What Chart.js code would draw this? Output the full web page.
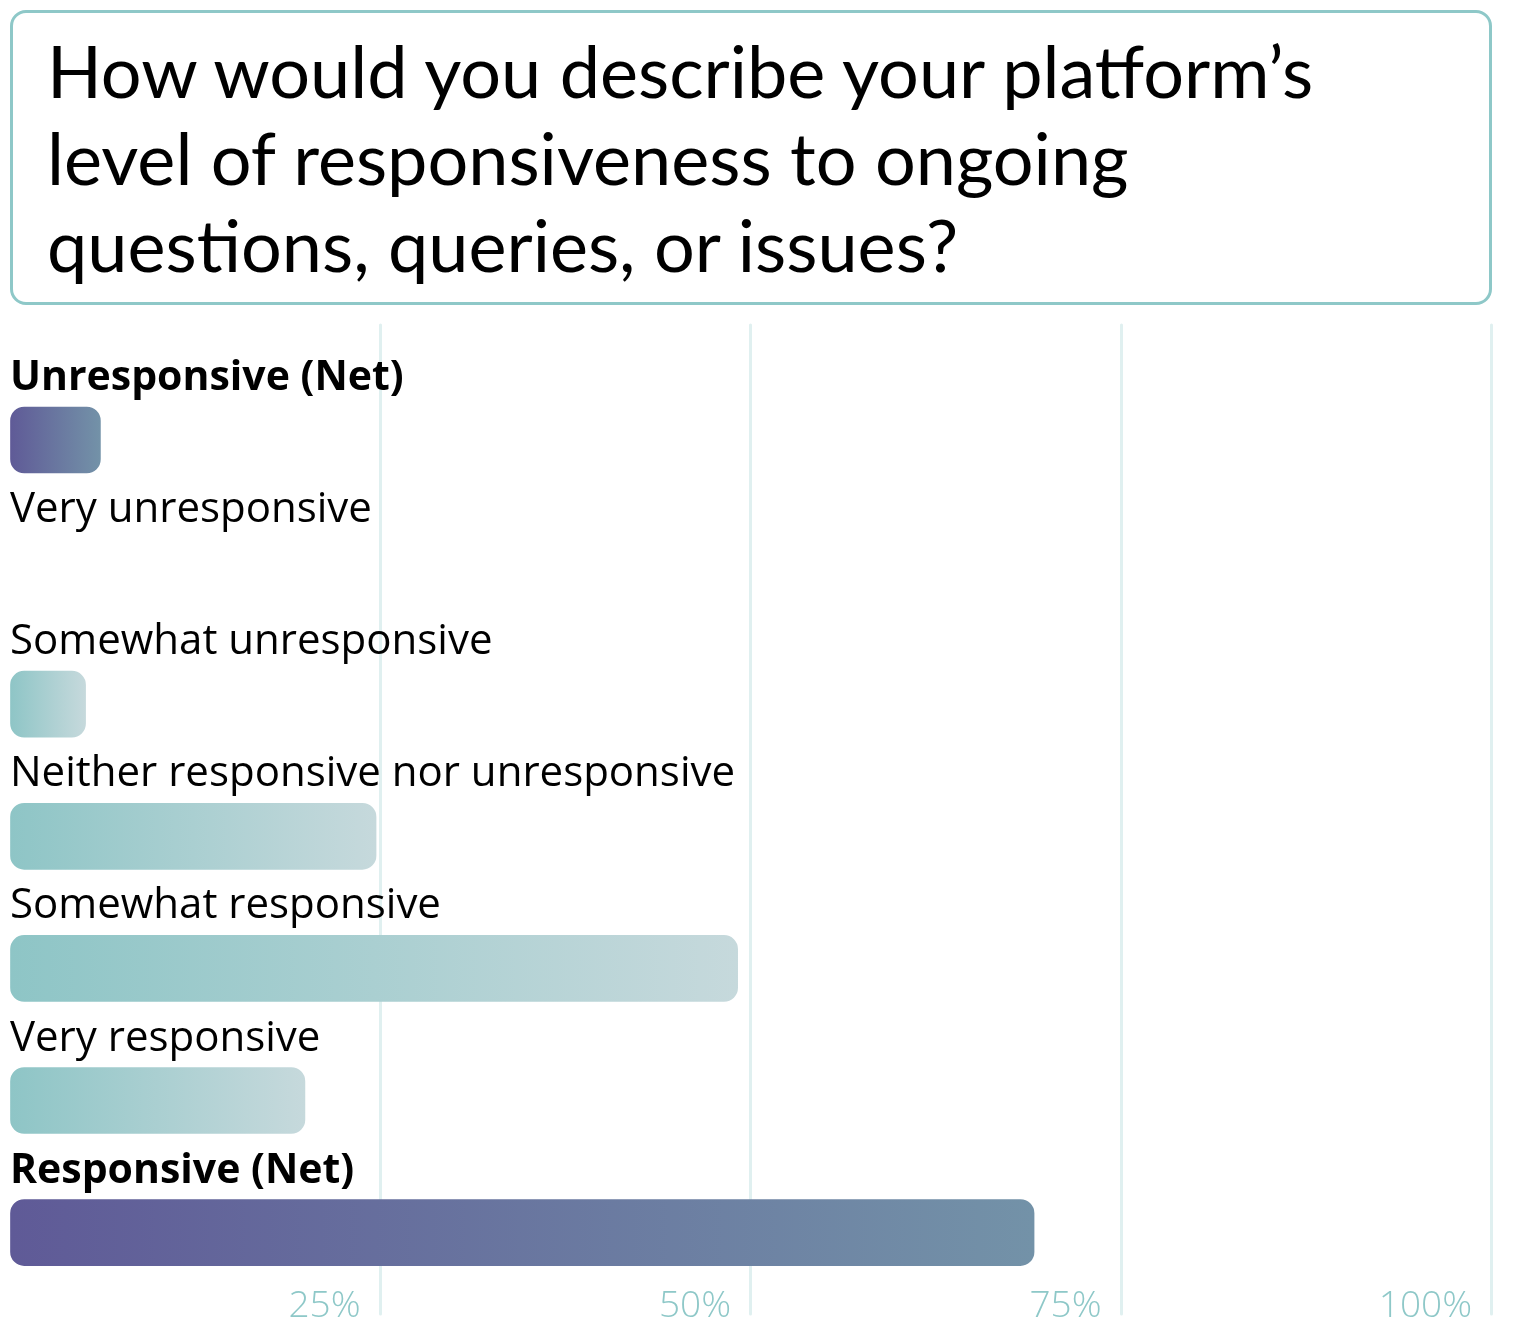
<!DOCTYPE html>
<html>
<head>
<meta charset="utf-8">
<script src="https://cdn.jsdelivr.net/npm/chart.js@4.4.1/dist/chart.umd.min.js"></script>
<style>
    html, body { margin: 0; padding: 0; background: #fff; }
    body { width: 1518px; height: 1342px; position: relative; overflow: hidden; }
    #chart { position: absolute; left: 0; top: 0; }
    .title-box {
        position: absolute;
        left: 10px; top: 10px;
        width: 1476px; height: 289px;
        border: 3px solid #8ec8c8;
        border-radius: 16px;
        box-sizing: content-box;
    }
    .title-box h1 {
        margin: 0;
        padding: 14px 0 0 34px;
        font-family: Lato, sans-serif;
        font-weight: 400;
        font-size: 72px;
        line-height: 87px;
        letter-spacing: 0;
        color: #000;
    }
</style>
</head>
<body>
<canvas id="chart" width="1518" height="1342"></canvas>
<div class="title-box">
    <h1>How would you describe your platform’s<br>level of responsiveness to ongoing<br>questions, queries, or issues?</h1>
</div>
<script>
// Chart data
const categories = [
    'Unresponsive (Net)',
    'Very unresponsive',
    'Somewhat unresponsive',
    'Neither responsive nor unresponsive',
    'Somewhat responsive',
    'Very responsive',
    'Responsive (Net)'
];
const values = [6.1, 0, 5.1, 24.7, 49.1, 19.9, 69.1];
const netRows = [true, false, false, false, false, false, true];
const tickValues = [0, 25, 50, 75, 100];

const TEAL_FROM = '#8ec5c6';
const TEAL_TO = '#c6d9dc';
const NET_FROM = '#5f5a97';
const NET_TO = '#7392a8';

// Gradient for each bar, from its left edge to its right edge
const barFill = (context) => {
    const chart = context.chart;
    const i = context.dataIndex;
    const net = netRows[i];
    if (!(values[i] > 0)) return 'rgba(0,0,0,0)';
    if (!chart.chartArea || !chart.scales.x) return net ? NET_FROM : TEAL_FROM;
    const x = chart.scales.x;
    const x0 = x.getPixelForValue(0);
    const x1 = Math.max(x.getPixelForValue(values[i]), x0 + 1);
    const g = chart.ctx.createLinearGradient(x0, 0, x1, 0);
    g.addColorStop(0, net ? NET_FROM : TEAL_FROM);
    g.addColorStop(1, net ? NET_TO : TEAL_TO);
    return g;
};

// Vertical guide lines, taller than the plot area
const gridPlugin = {
    id: 'tallGrid',
    beforeDatasetsDraw(chart) {
        const { ctx, scales: { x } } = chart;
        ctx.save();
        ctx.strokeStyle = '#e0f0f0';
        ctx.lineWidth = 3;
        ctx.lineCap = 'round';
        tickValues.slice(1).forEach(v => {
            const px = Math.round(x.getPixelForValue(v)) - 0.5;
            ctx.beginPath();
            ctx.moveTo(px, 325);
            ctx.lineTo(px, 1314);
            ctx.stroke();
        });
        ctx.restore();
    }
};

// Category labels above each bar
const labelPlugin = {
    id: 'rowLabels',
    afterDatasetsDraw(chart) {
        const { ctx, scales: { x, y } } = chart;
        ctx.save();
        ctx.fillStyle = '#000';
        ctx.textAlign = 'left';
        ctx.textBaseline = 'alphabetic';
        categories.forEach((label, i) => {
            const cy = y.getPixelForValue(i);
            ctx.font = netRows[i] ? 'bold 41px "Open Sans", sans-serif' : '42px "Open Sans", sans-serif';
            ctx.fillText(label, x.getPixelForValue(0), cy - 50);
        });
        ctx.restore();
    }
};

new Chart(document.getElementById('chart'), {
    type: 'bar',
    data: {
        labels: categories,
        datasets: [{
            data: values,
            backgroundColor: barFill,
            borderRadius: 14,
            borderSkipped: false,
            barThickness: 66,
            clip: false
        }]
    },
    options: {
        indexAxis: 'y',
        responsive: false,
        animation: false,
        layout: { padding: { top: 440, left: 10, right: 26, bottom: 13 } },
        scales: {
            x: {
                min: 0,
                max: 100,
                afterBuildTicks: (axis) => { axis.ticks = tickValues.map(v => ({ value: v })); },
                grid: {
                    display: true,
                    drawOnChartArea: false,
                    drawTicks: true,
                    tickLength: 52,
                    color: 'rgba(0,0,0,0)'
                },
                border: { display: false },
                ticks: {
                    align: 'end',
                    labelOffset: -20,
                    padding: 0,
                    color: '#8ec8c8',
                    font: { family: 'Open Sans', size: 37, weight: '300' },
                    callback: (v) => v === 0 ? '' : v + '%'
                }
            },
            y: { display: false, offset: false }
        },
        plugins: {
            legend: { display: false },
            tooltip: { enabled: false }
        }
    },
    plugins: [gridPlugin, labelPlugin]
});
</script>
</body>
</html>
